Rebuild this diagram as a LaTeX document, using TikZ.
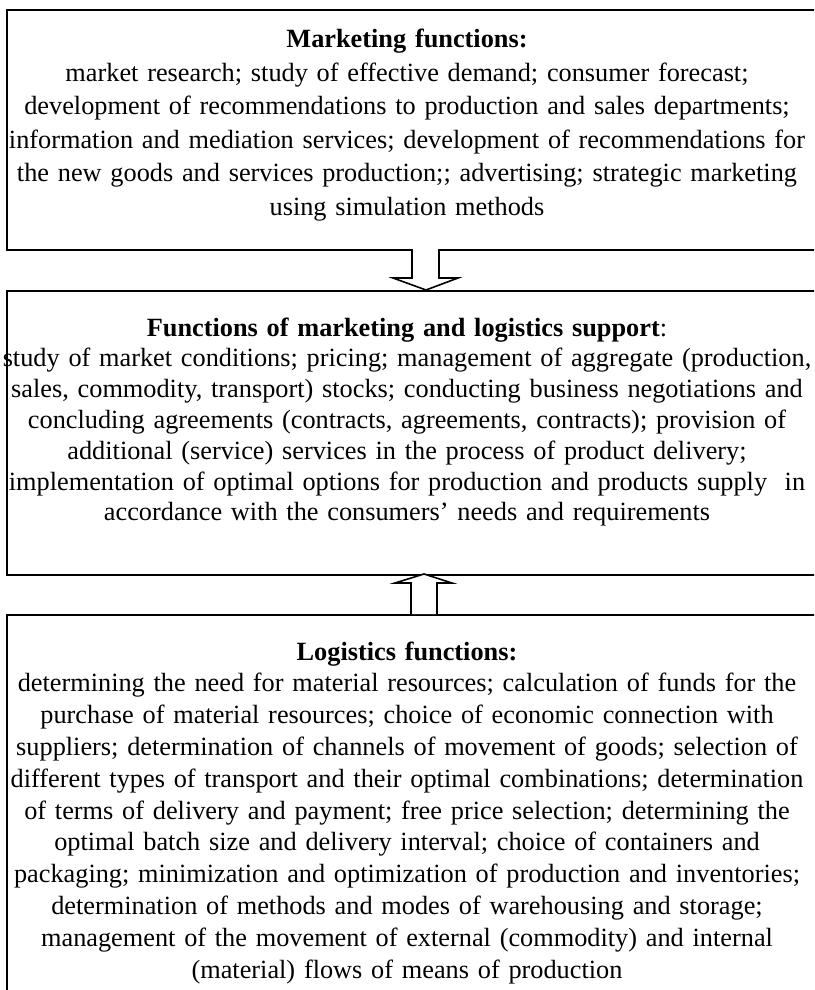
\documentclass[tikz,border=0pt]{standalone}
\usepackage{fontspec}
\setmainfont{Liberation Serif}
\begin{document}
\begin{tikzpicture}[x=1pt,y=-1pt,
  boxline/.style={draw=black,line width=1.6pt},
  txt/.style={align=center,inner sep=0pt,text width=880pt},
  blockarrow/.style={draw=black,fill=white,line width=1.6pt,line join=miter}]
\useasboundingbox (0,0) rectangle (814,990);
\clip (0,0) rectangle (814,990);
% boxes
\node[boxline,anchor=north west,minimum width=830pt,minimum height=240pt,inner sep=0pt] (mkt) at (6,9) {};
\node[boxline,anchor=north west,minimum width=830pt,minimum height=284pt,inner sep=0pt] (sup) at (6,290) {};
\node[boxline,anchor=north west,minimum width=830pt,minimum height=400pt,inner sep=0pt] (log) at (6,614) {};
% arrows
\draw[blockarrow] (412,249) -- (412,278) -- (393,278) -- (426,290) -- (458,278) -- (439,278) -- (439,249);
\draw[blockarrow] (411,614) -- (411,583) -- (395,583) -- (424,574) -- (452,583) -- (437,583) -- (437,614);
% texts
\node[txt,anchor=base,font=\fontsize{26.3}{33.5}\selectfont] (mkttxt) at (407,48) {\textbf{Marketing functions:}\\
market research; study of effective demand; consumer forecast;\\
development of recommendations to production and sales departments;\\
information and mediation services; development of recommendations for\\
the new goods and services production;; advertising; strategic marketing\\
using simulation methods};
\node[txt,anchor=base,font=\fontsize{26.3}{30.8}\selectfont] (suptxt) at (407,336) {\textbf{Functions of marketing and logistics support}:\\
study of market conditions; pricing; management of aggregate (production,\\
sales, commodity, transport) stocks; conducting business negotiations and\\
concluding agreements (contracts, agreements, contracts); provision of\\
additional (service) services in the process of product delivery;\\
implementation of optimal options for production and products supply\ \ in\\
accordance with the consumers’ needs and requirements};
\node[txt,anchor=base,font=\fontsize{26.3}{31.8}\selectfont] (logtxt) at (407,660) {\textbf{Logistics functions:}\\
determining the need for material resources; calculation of funds for the\\
purchase of material resources; choice of economic connection with\\
suppliers; determination of channels of movement of goods; selection of\\
different types of transport and their optimal combinations; determination\\
of terms of delivery and payment; free price selection; determining the\\
optimal batch size and delivery interval; choice of containers and\\
packaging; minimization and optimization of production and inventories;\\
determination of methods and modes of warehousing and storage;\\
management of the movement of external (commodity) and internal\\
(material) flows of means of production};
\end{tikzpicture}
\end{document}
